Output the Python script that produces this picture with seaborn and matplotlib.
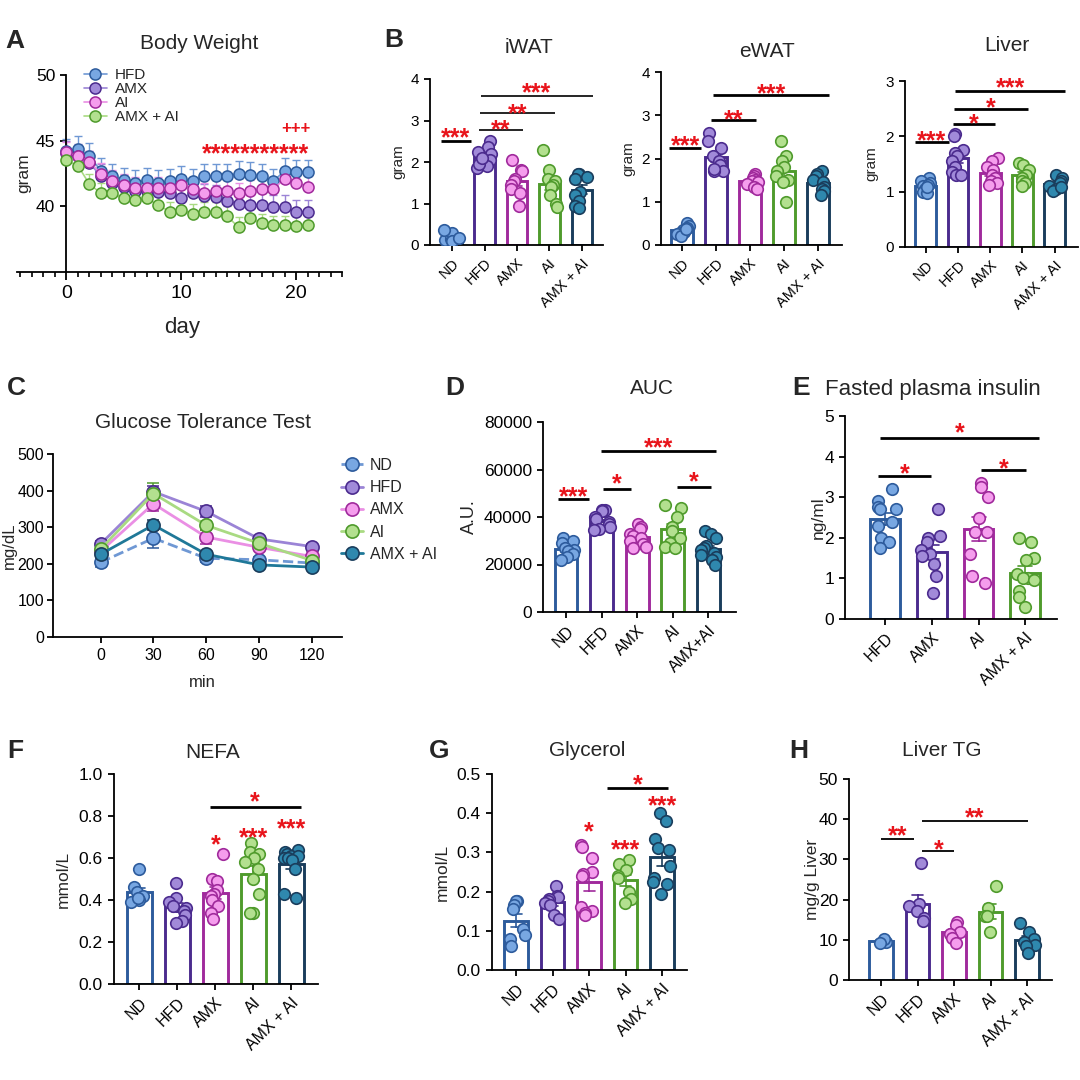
import numpy as np
import pandas as pd
import matplotlib
matplotlib.use("Agg")
import matplotlib.pyplot as plt
import seaborn as sns
from matplotlib.lines import Line2D
from matplotlib.ticker import MultipleLocator, FormatStrFormatter

# ---- data ----
days = list(range(22))
bw_hfd = [44.2, 44.4, 43.85, 42.7, 42.3, 42.0, 41.8, 42.0, 41.8, 41.9, 42.1, 41.9,
          42.3, 42.3, 42.3, 42.5, 42.4, 42.3, 41.9, 42.7, 42.6, 42.6]
bw_amx = [44.05, 43.85, 43.3, 42.3, 41.8, 41.5, 41.2, 41.2, 41.1, 41.0, 40.6, 41.0,
          40.8, 40.7, 40.4, 40.2, 40.1, 40.1, 39.95, 39.95, 39.55, 39.6]
bw_ai = [44.1, 43.85, 43.4, 42.5, 41.95, 41.65, 41.4, 41.4, 41.4, 41.4, 41.6, 41.3,
         41.0, 41.2, 41.2, 41.0, 41.2, 41.3, 41.3, 42.1, 41.8, 41.5]
bw_combo = [43.5, 43.1, 41.7, 41.0, 41.0, 40.6, 40.45, 40.6, 40.1, 39.6, 39.7, 39.45,
            39.55, 39.55, 39.25, 38.4, 39.1, 38.7, 38.55, 38.55, 38.5, 38.55]
bw_sem = [0.95, 0.9, 0.8, 0.75]
bw_labels = ["HFD", "AMX", "AI", "AMX + AI"]

gtt_time = [0, 30, 60, 90, 120]
gtt_nd = [204, 270, 215, 211, 202]
gtt_hfd = [254, 397, 343, 268, 247]
gtt_amx = [234, 364, 273, 245, 220]
gtt_ai = [240, 392, 305, 256, 209]
gtt_combo = [226, 306, 226, 197, 191]
gtt_sem_nd = [12, 27, 10, 8, 8]
gtt_sem_hfd = [8, 15, 15, 8, 8]
gtt_sem_amx = [8, 20, 20, 8, 8]
gtt_sem_ai = [8, 30, 12, 8, 8]
gtt_sem_combo = [8, 15, 8, 6, 6]

groups = ["ND", "HFD", "AMX", "AI", "AMX + AI"]

iwat_nd = [0.08, 0.12, 0.15, 0.18, 0.22, 0.3, 0.35, 0.1, 0.16]
iwat_hfd = [2.5, 2.35, 2.25, 2.2, 2.05, 2.0, 1.9, 1.85, 1.95, 2.1]
iwat_amx = [2.05, 1.8, 1.78, 1.6, 1.55, 1.45, 1.35, 1.25, 0.95]
iwat_ai = [2.3, 1.8, 1.6, 1.55, 1.45, 1.4, 1.2, 1.0, 0.92]
iwat_combo = [1.72, 1.7, 1.65, 1.6, 1.28, 1.2, 1.05, 0.95, 0.88]

ewat_nd = [0.5, 0.45, 0.4, 0.35, 0.3, 0.28, 0.25, 0.2, 0.38]
ewat_hfd = [2.6, 2.4, 2.25, 2.05, 1.95, 1.85, 1.7, 1.7, 1.75]
ewat_amx = [1.65, 1.6, 1.55, 1.5, 1.48, 1.45, 1.4, 1.35, 1.3]
ewat_ai = [2.4, 2.05, 1.95, 1.8, 1.7, 1.6, 1.5, 1.45, 1.0]
ewat_combo = [1.72, 1.65, 1.6, 1.5, 1.45, 1.35, 1.3, 1.25, 1.15]

liver_nd = [1.25, 1.2, 1.15, 1.1, 1.05, 1.0, 0.98, 1.12, 1.08]
liver_hfd = [2.05, 2.0, 1.75, 1.7, 1.65, 1.55, 1.45, 1.35, 1.3, 1.3]
liver_amx = [1.6, 1.55, 1.45, 1.4, 1.3, 1.25, 1.2, 1.15, 1.12]
liver_ai = [1.52, 1.48, 1.4, 1.3, 1.25, 1.2, 1.15, 1.1]
liver_combo = [1.3, 1.25, 1.2, 1.15, 1.1, 1.05, 1.02, 1.08]

auc_groups = ["ND", "HFD", "AMX", "AI", "AMX+AI"]
auc_nd = [31000, 30000, 29000, 27000, 26000, 25500, 24500, 23000, 22000]
auc_hfd = [43000, 43000, 42500, 40000, 39000, 38000, 37000, 36000, 35000, 34500]
auc_amx = [37000, 36000, 35000, 33000, 32000, 31000, 30000, 28500, 27500, 27000]
auc_ai = [45000, 44000, 40000, 36000, 34000, 31000, 29000, 27500, 27000]
auc_combo = [34000, 33000, 31000, 28000, 27000, 26000, 25000, 24000, 23000, 22000, 20000]

ins_groups = ["HFD", "AMX", "AI", "AMX + AI"]
ins_hfd = [3.2, 2.9, 2.75, 2.7, 2.7, 2.4, 2.3, 2.0, 1.9, 1.75]
ins_amx = [2.7, 2.05, 2.0, 1.9, 1.7, 1.6, 1.55, 1.35, 1.05, 0.65]
ins_ai = [3.35, 3.25, 3.0, 2.5, 2.15, 2.15, 1.6, 1.05, 0.88]
ins_combo = [2.0, 1.9, 1.5, 1.45, 1.1, 1.0, 1.0, 0.95, 0.7, 0.55, 0.3]

nefa_nd = [0.55, 0.46, 0.44, 0.42, 0.40, 0.39, 0.41]
nefa_hfd = [0.48, 0.41, 0.39, 0.37, 0.36, 0.35, 0.33, 0.30, 0.29]
nefa_amx = [0.62, 0.50, 0.49, 0.45, 0.43, 0.42, 0.40, 0.37, 0.34, 0.31]
nefa_ai = [0.67, 0.63, 0.62, 0.60, 0.58, 0.55, 0.50, 0.43, 0.34, 0.34]
nefa_combo = [0.64, 0.63, 0.62, 0.61, 0.61, 0.60, 0.60, 0.59, 0.55, 0.43, 0.41]

gly_nd = [0.175, 0.175, 0.165, 0.155, 0.105, 0.09, 0.08, 0.06]
gly_hfd = [0.215, 0.19, 0.185, 0.18, 0.175, 0.17, 0.165, 0.14, 0.13]
gly_amx = [0.32, 0.315, 0.285, 0.25, 0.245, 0.24, 0.16, 0.15, 0.145, 0.14]
gly_ai = [0.28, 0.27, 0.255, 0.24, 0.235, 0.2, 0.18, 0.17]
gly_combo = [0.40, 0.38, 0.335, 0.31, 0.305, 0.265, 0.235, 0.225, 0.22, 0.195]

tg_nd = [9.4, 10.3, 9.3]
tg_hfd = [29.0, 19.0, 18.5, 17.2, 15.5, 14.8]
tg_amx = [14.5, 13.8, 12.0, 11.5, 10.5, 9.2]
tg_ai = [23.3, 18.0, 16.0, 15.8, 12.0]
tg_combo = [14.2, 12.0, 10.2, 9.5, 8.8, 8.5, 6.8]

# ---- style ----
FILL = {"ND": "#78a7e2", "HFD": "#a18ad9", "AMX": "#f59ded", "AI": "#b3e08f", "COMBO": "#2f88ae"}
EDGE = {"ND": "#2d5b9c", "HFD": "#4b2b8e", "AMX": "#a02a9c", "AI": "#4f9b2c", "COMBO": "#1a3d5c"}
LINE = {"ND": "#6f98d4", "HFD": "#9b84d6", "AMX": "#ea8fe4", "AI": "#a9da82", "COMBO": "#1f7898"}
KEYS = ["ND", "HFD", "AMX", "AI", "COMBO"]
RED = "#e8141b"
STAR_FS = 18

sns.set_theme(style="ticks")
plt.rcParams["font.family"] = ["Liberation Sans", "DejaVu Sans"]
plt.rcParams["axes.linewidth"] = 1.3
plt.rcParams["xtick.major.width"] = 1.3
plt.rcParams["ytick.major.width"] = 1.3
plt.rcParams["xtick.major.size"] = 4.5
plt.rcParams["ytick.major.size"] = 4.5
plt.rcParams["xtick.color"] = "black"
plt.rcParams["ytick.color"] = "black"
plt.rcParams["axes.edgecolor"] = "black"

# stripplot jitter draws from numpy's global generator; fix it so the layout is repeatable
np.random.seed(11)

W, H = 1080, 1080
fig = plt.figure(figsize=(10.8, 10.8), dpi=100)


def add_ax(l, t, r, b):
    return fig.add_axes([l / W, 1 - b / H, (r - l) / W, (b - t) / H])


def ftext(x, y, s, **kw):
    fig.text(x / W, 1 - y / H, s, **kw)


def stars(ax, x, y, s):
    # y is where the centre of the star glyphs sits
    ax.annotate(s, xy=(x, y), xytext=(0, -0.58 * STAR_FS), textcoords="offset points",
                ha="center", va="baseline", color=RED, fontsize=STAR_FS, fontweight="bold")


def sig(ax, x1, x2, y, ys, s, lw=2.0):
    ax.plot([x1, x2], [y, y], color="black", lw=lw, solid_capstyle="butt")
    stars(ax, (x1 + x2) / 2, ys, s)


def bar_panel(ax, names, values, keys, ylim, yticks, xlim, tick_fs=12, cat_fs=11.5):
    for g, v, k in zip(names, values, keys):
        sns.barplot(x=[g] * len(v), y=v, order=names, color=EDGE[k], fill=False,
                    width=0.64, linewidth=2.1, errorbar="se", capsize=0.3,
                    err_kws={"linewidth": 1.2, "color": EDGE[k]}, ax=ax)
    for g, v, k in zip(names, values, keys):
        sns.stripplot(x=[g] * len(v), y=v, order=names, color=FILL[k], jitter=0.24,
                      edgecolor=EDGE[k], linewidth=1.2, size=8.3, ax=ax)
    sns.despine(ax=ax)
    ax.set_ylim(*ylim)
    ax.set_yticks(yticks)
    ax.set_xlim(*xlim)
    ax.set_xticks(range(len(names)))
    ax.set_xticklabels(names, rotation=45, ha="right", rotation_mode="anchor", fontsize=cat_fs)
    ax.tick_params(axis="y", labelsize=tick_fs)
    ax.set_xlabel("")


def ylab(ax, text, frac, fs=12):
    ax.set_ylabel(text, fontsize=fs)
    ax.yaxis.set_label_coords(frac, 0.5)


# ---- A: body weight ----
axA = add_ax(17, 75, 342, 272)
bw_series = [bw_hfd, bw_amx, bw_ai, bw_combo]
bw_keys = ["ND", "HFD", "AMX", "AI"]
handles = []
for vals, k, s in zip(bw_series, bw_keys, bw_sem):
    axA.errorbar(days, vals, yerr=[np.zeros(len(vals)), np.full(len(vals), s)], fmt="none",
                 ecolor=LINE[k], elinewidth=1.0, capsize=3, capthick=1.0, zorder=2)
    sns.lineplot(x=days, y=vals, ax=axA, color=LINE[k], marker="o", markersize=8,
                 markerfacecolor=FILL[k], markeredgecolor=EDGE[k], markeredgewidth=1.1,
                 linewidth=1.2, zorder=3)
    handles.append(Line2D([], [], color=LINE[k], marker="o", markersize=8, markerfacecolor=FILL[k],
                          markeredgecolor=EDGE[k], markeredgewidth=1.1, lw=1.2))
axA.set_xlim(-4.3, 24)
axA.set_ylim(35, 50)
axA.spines["left"].set_position(("data", 0))
sns.despine(ax=axA)
axA.set_yticks([40, 45, 50])
axA.set_xticks([0, 10, 20])
axA.xaxis.set_minor_locator(MultipleLocator(1))
axA.tick_params(axis="x", which="minor", length=3.5, width=1.2)
axA.tick_params(axis="x", which="major", length=6, labelsize=14)
axA.tick_params(axis="y", labelsize=12.5)
axA.set_xlabel("day", fontsize=16)
axA.xaxis.set_label_coords(0.508, -0.228)
ylab(axA, "gram", 0.043, fs=12.5)
axA.legend(handles, bw_labels, loc="upper left", bbox_to_anchor=(84 / W, 1 - 68 / H),
           bbox_transform=fig.transFigure, frameon=False, fontsize=11, handlelength=1.5,
           handletextpad=0.5, labelspacing=0.0, borderpad=0, borderaxespad=0)
stars(axA, 16.5, 44.5, "*" * 11)
axA.annotate("+++", xy=(20, 46.0), xytext=(0, -0.35 * 12), textcoords="offset points",
             ha="center", va="baseline", color=RED, fontsize=12, fontweight="bold")

# ---- B: tissue weights ----
axB1 = add_ax(430, 79, 603, 245)
bar_panel(axB1, groups, [iwat_nd, iwat_hfd, iwat_amx, iwat_ai, iwat_combo], KEYS,
          (0, 4), [0, 1, 2, 3, 4], (-0.68, 4.65), tick_fs=11, cat_fs=10.5)
ylab(axB1, "gram", -0.145, fs=11)
for x1, x2, y, ys, s in [(-0.35, 0.58, 2.51, 2.74, "***"), (0.83, 2.18, 2.76, 2.94, "**"),
                         (0.85, 3.18, 3.18, 3.34, "**"), (0.9, 4.33, 3.58, 3.84, "***")]:
    sig(axB1, x1, x2, y, ys, s, lw=1.2 if x1 > 0 else 2.0)

axB2 = add_ax(661, 72, 842, 245)
bar_panel(axB2, groups, [ewat_nd, ewat_hfd, ewat_amx, ewat_ai, ewat_combo], KEYS,
          (0, 4), [0, 1, 2, 3, 4], (-0.62, 4.7), tick_fs=11, cat_fs=10.5)
ylab(axB2, "gram", -0.144, fs=11)
for x1, x2, y, ys, s in [(-0.38, 0.57, 2.25, 2.45, "***"), (0.84, 2.17, 2.88, 3.05, "**"),
                         (0.91, 4.32, 3.46, 3.65, "***")]:
    sig(axB2, x1, x2, y, ys, s)

axB3 = add_ax(905, 81, 1078, 247)
bar_panel(axB3, groups, [liver_nd, liver_hfd, liver_amx, liver_ai, liver_combo], KEYS,
          (0, 3), [0, 1, 2, 3], (-0.64, 4.72), tick_fs=11, cat_fs=10.5)
ylab(axB3, "gram", -0.154, fs=11)
for x1, x2, y, ys, s in [(-0.34, 0.73, 1.89, 2.05, "***"), (0.84, 2.16, 2.22, 2.36, "*"),
                         (0.87, 3.18, 2.5, 2.65, "*"), (0.92, 4.33, 2.82, 3.0, "***")]:
    sig(axB3, x1, x2, y, ys, s)

# ---- C: GTT ----
axC = add_ax(53, 454, 342, 637)
gtt_series = [gtt_nd, gtt_hfd, gtt_amx, gtt_ai, gtt_combo]
gtt_sems = [gtt_sem_nd, gtt_sem_hfd, gtt_sem_amx, gtt_sem_ai, gtt_sem_combo]
gtt_handles = []
for vals, err, k in zip(gtt_series, gtt_sems, KEYS):
    ls = "--" if k == "ND" else "-"
    axC.errorbar(gtt_time, vals, yerr=err, fmt="none", ecolor=EDGE[k], elinewidth=1.1,
                 capsize=4, capthick=1.1, zorder=2)
    sns.lineplot(x=gtt_time, y=vals, ax=axC, color=LINE[k], linestyle=ls, marker="o",
                 markersize=9.5, markerfacecolor=FILL[k], markeredgecolor=EDGE[k],
                 markeredgewidth=1.2, linewidth=2.0, zorder=3)
    gtt_handles.append(Line2D([], [], color=LINE[k], linestyle=ls, marker="o", markersize=9.5,
                              markerfacecolor=FILL[k], markeredgecolor=EDGE[k],
                              markeredgewidth=1.2, lw=2.0))
sns.despine(ax=axC)
axC.set_xlim(-27, 137)
axC.set_ylim(0, 500)
axC.set_xticks(gtt_time)
axC.set_yticks([0, 100, 200, 300, 400, 500])
axC.tick_params(labelsize=11.5)
axC.tick_params(axis="y", pad=2)
axC.set_xlabel("min", fontsize=12)
axC.xaxis.set_label_coords(0.518, -0.208)
ylab(axC, "mg/dL", -0.125, fs=12)
axC.legend(gtt_handles, groups, loc="upper left", bbox_to_anchor=(341 / W, 1 - 458 / H),
           bbox_transform=fig.transFigure, frameon=False, fontsize=11.5, handlelength=1.4,
           handletextpad=0.4, labelspacing=0.45, borderpad=0, borderaxespad=0)

# ---- D: AUC ----
axD = add_ax(543, 422, 736, 612)
bar_panel(axD, auc_groups, [auc_nd, auc_hfd, auc_amx, auc_ai, auc_combo], KEYS,
          (0, 80000), [0, 20000, 40000, 60000, 80000], (-0.65, 4.78), tick_fs=12.5)
ylab(axD, "A.U.", -0.337, fs=13)
for x1, x2, y, ys, s in [(-0.22, 0.64, 47400, 51650, "***"), (1.04, 1.82, 51900, 56800, "*"),
                         (3.11, 4.09, 52600, 57800, "*"), (0.98, 4.23, 67600, 71900, "***")]:
    sig(axD, x1, x2, y, ys, s)

# ---- E: insulin ----
axE = add_ax(845, 416, 1057, 619)
bar_panel(axE, ins_groups, [ins_hfd, ins_amx, ins_ai, ins_combo], ["ND", "HFD", "AMX", "AI"],
          (0, 5), [0, 1, 2, 3, 4, 5], (-0.86, 3.68), tick_fs=12.5)
ylab(axE, "ng/ml", -0.09, fs=12.5)
for x1, x2, y, ys, s in [(-0.16, 0.98, 3.51, 3.74, "*"), (2.06, 3.01, 3.67, 3.88, "*"),
                         (-0.1, 3.29, 4.47, 4.76, "*")]:
    sig(axE, x1, x2, y, ys, s)

# ---- F: NEFA ----
axF = add_ax(114, 774, 318, 984)
bar_panel(axF, groups, [nefa_nd, nefa_hfd, nefa_amx, nefa_ai, nefa_combo], KEYS,
          (0, 1.0), [0, 0.2, 0.4, 0.6, 0.8, 1.0], (-0.67, 4.7), tick_fs=12.5)
axF.yaxis.set_major_formatter(FormatStrFormatter("%.1f"))
ylab(axF, "mmol/L", -0.21, fs=12.5)
sig(axF, 1.85, 4.24, 0.842, 0.90, "*")
for x, y, s in [(2, 0.695, "*"), (3, 0.73, "***"), (4, 0.77, "***")]:
    stars(axF, x, y, s)

# ---- G: glycerol ----
axG = add_ax(492, 774, 687, 970)
bar_panel(axG, groups, [gly_nd, gly_hfd, gly_amx, gly_ai, gly_combo], KEYS,
          (0, 0.5), [0, 0.1, 0.2, 0.3, 0.4, 0.5], (-0.66, 4.68), tick_fs=12.5)
axG.yaxis.set_major_formatter(FormatStrFormatter("%.1f"))
ylab(axG, "mmol/L", -0.215, fs=12.5)
sig(axG, 2.48, 4.16, 0.464, 0.49, "*")
for x, y, s in [(2, 0.37, "*"), (3, 0.325, "***"), (4, 0.437, "***")]:
    stars(axG, x, y, s)

# ---- H: liver TG ----
axH = add_ax(849, 779, 1052, 980)
bar_panel(axH, groups, [tg_nd, tg_hfd, tg_amx, tg_ai, tg_combo], KEYS,
          (0, 50), [0, 10, 20, 30, 40, 50], (-0.88, 4.68), tick_fs=12.5)
ylab(axH, "mg/g Liver", -0.143, fs=12.5)
for x1, x2, y, ys, s in [(0, 0.9, 35.0, 37.5, "**"), (1.13, 2.0, 32.0, 34.1, "*"),
                         (1.12, 4.02, 39.5, 42.1, "**")]:
    sig(axH, x1, x2, y, ys, s, lw=1.3)

# ---- titles and panel letters ----
TITLE_FS = 15
for x, y, s in [(199, 49, "Body Weight"), (529, 53, "iWAT"), (767, 57, "eWAT"),
                (1007, 51, "Liver"), (203, 428, "Glucose Tolerance Test"), (652, 394, "AUC"),
                (213, 758, "NEFA"), (587, 756, "Glycerol"), (942, 756, "Liver TG")]:
    ftext(x, y, s, fontsize=TITLE_FS, ha="center", va="baseline")
ftext(825, 395, "Fasted plasma insulin", fontsize=16, ha="left", va="baseline")

for x, y, s in [(5, 48, "A"), (384, 47, "B"), (7, 395, "C"), (445, 395, "D"),
                (792, 395, "E"), (7, 758, "F"), (429, 758, "G"), (789, 758, "H")]:
    ftext(x, y, s, fontsize=19, fontweight="bold", ha="left", va="baseline")

fig.savefig("out.png", dpi=100)
